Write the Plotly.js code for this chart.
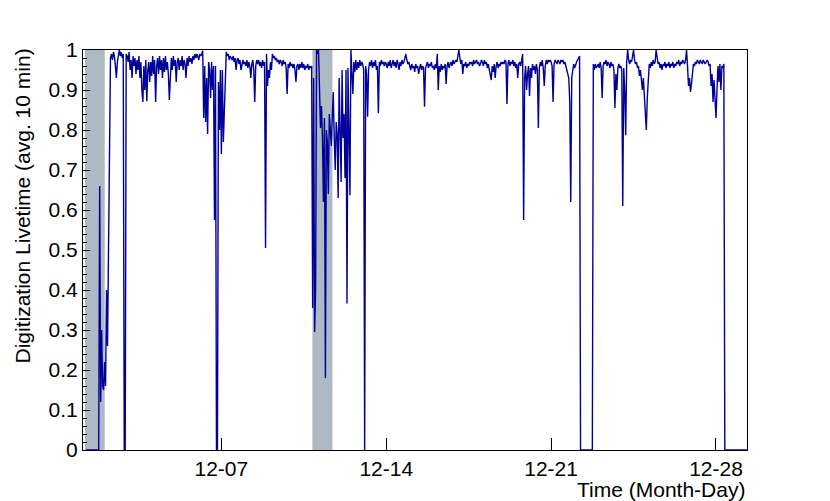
<!DOCTYPE html>
<html>
<head>
<meta charset="utf-8">
<script src="https://cdn.plot.ly/plotly-3.0.1.min.js"></script>
<style>
  html, body { margin: 0; padding: 0; background: #fff; }
  #plot { width: 830px; height: 501px; }
</style>
</head>
<body>
<div id="plot"></div>
<script>
// hourly livetime, one array per day of December (index = hour of day)
var dec01 = [null,null,null,null,null,null,0,0,0,0,0,0,0,0,0,0,0,0,0,0,0.66,0.12,0.30,0.16];
var dec02 = [0.15,0.22,0.16,0.40,0.26,0.48,0.80,0.98,0.99,0.975,0.995,0.985,0.96,0.93,0.97,0.99,1.0,0.985,0.995,0.98,0.99,0,0,0.99];
var dec03 = [0.985,0.97,0.995,0.95,0.975,0.93,0.985,0.96,0.98,0.94,0.975,0.95,0.985,0.93,0.97,0.90,0.87,0.96,0.90,0.975,0.872,0.95,0.97,0.92];
var dec04 = [0.97,0.935,0.985,0.94,0.975,0.87,0.96,0.98,0.94,0.985,0.95,0.975,0.93,0.98,0.945,0.985,0.95,0.97,0.94,0.875,0.96,0.98,0.95,0.985];
var dec05 = [0.96,0.975,0.92,0.97,0.98,0.95,0.975,0.96,0.985,0.95,0.975,0.965,0.93,0.98,0.96,0.985,0.97,0.98,0.965,0.985,0.975,0.99,0.98,0.99];
var dec06 = [0.985,0.975,0.99,0.985,0.99,0.998,0.83,0.96,0.82,0.93,0.79,0.97,0.95,0.88,0.97,0.90,0.96,0.575,0.96,0,0,0.92,0.80,0.95];
var dec07 = [0.74,0.95,0.77,0.86,0.97,0.995,0.985,0.99,0.975,0.985,0.98,0.975,0.985,0.97,0.98,0.95,0.975,0.98,0.965,0.975,0.95,0.97,0.975,0.965];
var dec08 = [0.97,0.96,0.975,0.955,0.97,0.96,0.93,0.965,0.975,0.95,0.87,0.96,0.975,0.965,0.975,0.96,0.97,0.955,0.975,0.96,0.97,0.505,0.99,0.91];
var dec09 = [0.95,0.93,0.97,0.95,0.99,0.98,0.985,0.975,0.98,0.97,0.975,0.965,0.975,0.97,0.96,0.975,0.965,0.97,0.955,0.89,0.965,0.955,0.97,0.96];
var dec10 = [0.965,0.955,0.965,0.95,0.92,0.96,0.965,0.95,0.965,0.955,0.97,0.955,0.965,0.95,0.96,0.955,0.965,0.95,0.96,0.955,0.96,0.355,0.93,0.295];
var dec11 = [0.40,1.0,0.99,1.0,0.88,0.805,0.86,0.78,0.62,0.83,0.18,0.80,0.77,0.64,0.84,0.79,0.76,0.83,0.895,0.78,0.70,0.82,0.79,0.63];
var dec12 = [0.93,0.80,0.67,0.95,0.78,0.84,0.68,0.95,0.366,0.955,0.79,0.637,1.0,0.96,0.89,0.97,0.945,0.975,0.95,0.97,0.955,0.975,0.96,0.97];
var dec13 = [0.965,0.95,0,0.96,0.94,0.833,0.95,0.97,0.96,0.975,0.955,0.97,0.96,0.975,0.95,0.96,0.842,0.97,0.96,0.975,0.965,0.97,0.96,0.97];
var dec14 = [0.965,0.955,0.97,0.96,0.975,0.955,0.965,0.975,0.96,0.97,0.955,0.975,0.965,0.95,0.97,0.96,0.975,0.965,0.97,0.98,0.99,0.975,0.965,0.97];
var dec15 = [0.96,0.95,0.965,0.955,0.96,0.945,0.965,0.955,0.96,0.94,0.955,0.965,0.95,0.96,0.955,0.858,0.955,0.965,0.97,0.955,0.965,0.96,0.97,0.955];
var dec16 = [0.96,0.95,0.965,0.955,0.99,0.90,0.96,0.945,0.965,0.95,0.96,0.955,0.965,0.915,0.96,0.97,0.955,0.965,0.97,0.96,0.975,0.965,0.97,0.975];
var dec17 = [0.97,0.99,1.0,0.98,0.965,0.975,0.94,0.965,0.96,0.97,0.955,0.965,0.96,0.97,0.965,0.97,0.96,0.975,0.965,0.97,0.975,0.965,0.97,0.96];
var dec18 = [0.965,0.975,0.97,0.96,0.975,0.965,0.97,0.955,0.965,0.95,0.93,0.925,0.96,0.945,0.965,0.93,0.96,0.97,0.955,0.965,0.96,0.97,0.965,0.97];
var dec19 = [0.965,0.975,0.97,0.865,0.965,0.975,0.96,0.97,0.965,0.975,0.96,0.97,0.955,0.965,0.93,0.965,0.97,0.96,0.975,0.99,0.575,0.93,0.96,0.90];
var dec20 = [0.94,0.96,0.885,0.955,0.93,0.965,0.95,0.96,0.94,0.965,0.95,0.805,0.955,0.97,0.96,0.975,0.955,0.91,0.96,0.975,0.965,0.975,0.97,0.975];
var dec21 = [0.97,0.96,0.87,0.965,0.975,0.97,0.965,0.975,0.97,0.965,0.975,0.97,0.975,0.965,0.97,0.96,0.955,0.94,0.93,0.87,0.62,0.93,0.95,0.965];
var dec22 = [0.955,0.965,0.97,0.975,0.98,0.985,0,0,0,0,0,0,0,0,0,0,0,0,0,0.965,0.95,0.965,0.955,0.96];
var dec23 = [0.965,0.955,0.97,0.955,0.88,0.96,0.97,0.965,0.975,0.96,0.97,0.965,0.955,0.97,0.96,0.965,0.95,0.855,0.94,0.90,0.955,0.965,0.955,0.96];
var dec24 = [0.95,0.61,0.955,0.90,0.787,0.97,1.0,0.975,0.965,0.975,0.97,0.985,1.0,0.975,0.965,0.97,0.955,0.96,0.935,0.95,0.91,0.90,0.93,0.89];
var dec25 = [0.86,0.80,0.88,0.93,0.965,0.955,0.97,0.96,0.975,0.965,0.97,1.0,0.975,0.965,0.97,0.955,0.965,0.95,0.965,0.96,0.97,0.955,0.965,0.96];
var dec26 = [0.97,0.955,0.965,0.96,0.97,0.955,0.965,0.96,0.97,0.965,0.975,0.96,0.97,0.965,0.975,0.97,0.965,0.975,1.0,0.96,0.91,0.93,0.895,0.915];
var dec27 = [0.94,0.965,0.96,0.97,0.965,0.975,0.97,0.965,0.975,0.97,0.965,0.975,0.97,0.965,0.97,0.975,0.97,0.96,0.965,0.91,0.94,0.87,0.925,0.85];
var dec28 = [0.83,0.90,0.96,0.92,0.965,0.90,0.96,0.955,0.965,0,0,0,0,0,0,0,0,0,0,0,0,0,0,0];
var dec29 = [0,0,0,0,0,0,0,0,0,0];

var days = [dec01,dec02,dec03,dec04,dec05,dec06,dec07,dec08,dec09,dec10,dec11,dec12,dec13,dec14,
            dec15,dec16,dec17,dec18,dec19,dec20,dec21,dec22,dec23,dec24,dec25,dec26,dec27,dec28,dec29];

// periods shaded grey
var bandStart = ["2017-12-01 05:00", "2017-12-10 20:45"];
var bandEnd   = ["2017-12-02 01:10", "2017-12-11 17:10"];

var tickDates = ["2017-12-07", "2017-12-14", "2017-12-21", "2017-12-28"];
var yTicks = [0, 0.1, 0.2, 0.3, 0.4, 0.5, 0.6, 0.7, 0.8, 0.9, 1];

function pad(n) { return (n < 10 ? "0" : "") + n; }

var x = [], y = [];
days.forEach(function (vals, d) {
    vals.forEach(function (v, h) {
        x.push("2017-12-" + pad(d + 1) + " " + pad(h) + ":00");
        y.push(v);
    });
});

var trace = {
    x: x,
    y: y,
    type: "scatter",
    mode: "lines",
    line: {color: "#000099", width: 1.4},
    hoverinfo: "skip"
};

var shapes = bandStart.map(function (s, i) {
    return {
        type: "rect", layer: "below",
        xref: "x", yref: "y",
        x0: s, x1: bandEnd[i], y0: 0, y1: 1,
        fillcolor: "#adbac4", line: {width: 0}
    };
});

var font = {family: "Liberation Sans, Arial, sans-serif", size: 21, color: "#000"};

var layout = {
    width: 830,
    height: 501,
    margin: {l: 83, r: 83, t: 50, b: 51},
    paper_bgcolor: "#fff",
    plot_bgcolor: "#fff",
    showlegend: false,
    font: font,
    xaxis: {
        type: "date",
        range: ["2017-12-01 03:00", "2017-12-29 07:36"],
        tickvals: tickDates,
        tickformat: "%m-%d",
        ticks: "inside",
        ticklen: 12,
        tickcolor: "#000",
        showgrid: false,
        zeroline: false,
        showline: true,
        mirror: true,
        linecolor: "#000",
        linewidth: 1,
        tickfont: font
    },
    yaxis: {
        range: [0, 1],
        tickvals: yTicks,
        ticks: "inside",
        ticklen: 7,
        tickcolor: "#000",
        minor: {dtick: 0.02, ticks: "inside", ticklen: 4, tickcolor: "#000"},
        showgrid: false,
        zeroline: false,
        showline: true,
        mirror: true,
        linecolor: "#000",
        linewidth: 1,
        tickfont: font
    },
    shapes: shapes,
    annotations: [
        {
            text: "Time (Month-Day)",
            xref: "paper", yref: "paper",
            x: 1, y: 0, xanchor: "right", yanchor: "middle",
            yshift: -39, showarrow: false, font: font
        },
        {
            text: "Digitization Livetime (avg. 10 min)",
            xref: "paper", yref: "paper",
            x: 0, y: 1, xanchor: "center", yanchor: "top",
            xshift: -61, yshift: 3, textangle: -90,
            showarrow: false, font: font
        }
    ]
};

Plotly.newPlot("plot", [trace], layout, {displayModeBar: false, staticPlot: true});
</script>
</body>
</html>
